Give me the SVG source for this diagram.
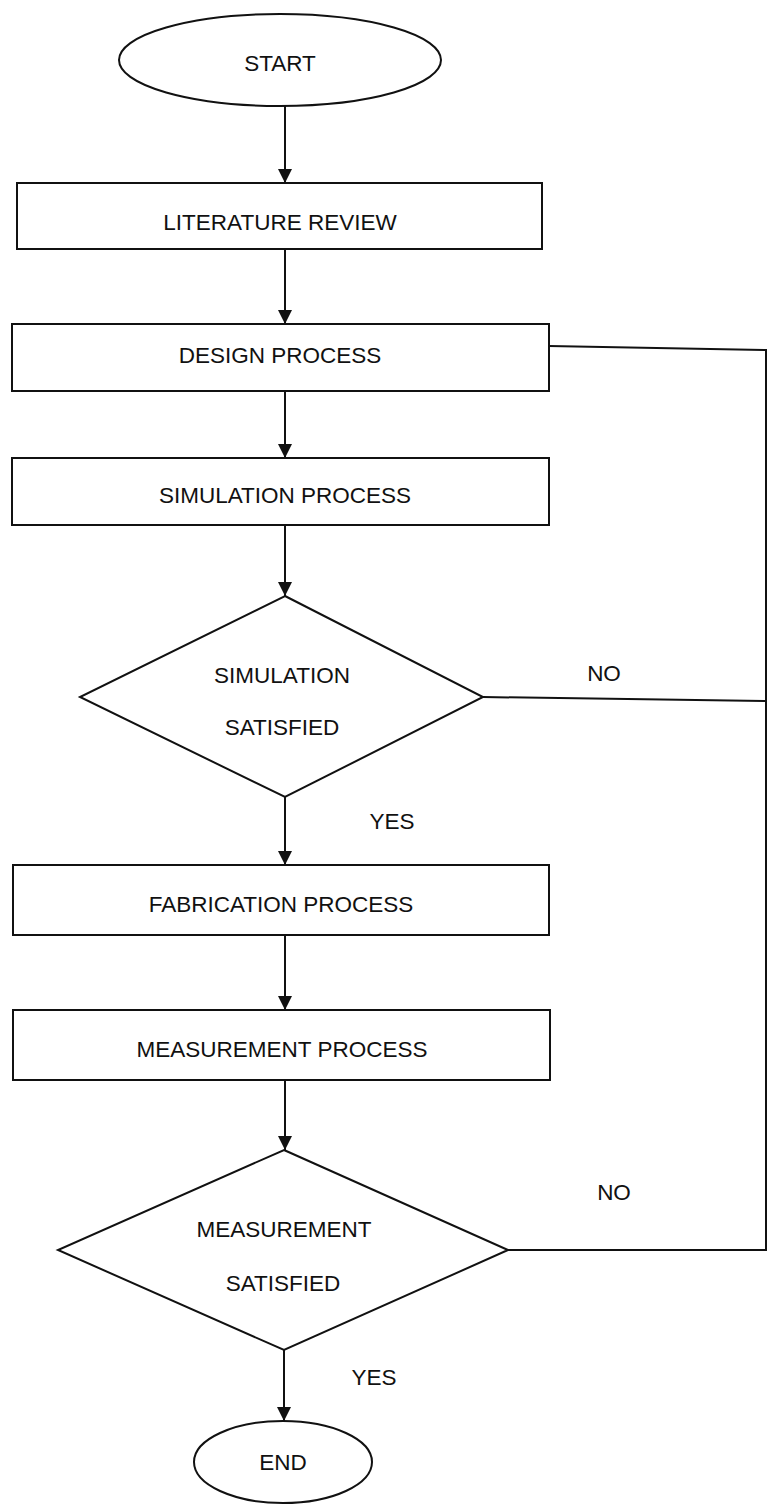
<svg xmlns="http://www.w3.org/2000/svg" width="769" height="1504" viewBox="0 0 769 1504">
<defs>
<marker id="arrow" markerUnits="userSpaceOnUse" markerWidth="14" markerHeight="15" refX="14" refY="7" orient="auto">
<path d="M0,0 L14,7 L0,14 Z" fill="#111"/>
</marker>
<style>
.shape{fill:#fff;stroke:#111;stroke-width:2}
.conn{fill:none;stroke:#111;stroke-width:2}
text{font-family:"Liberation Sans",Arial,sans-serif;font-size:22.5px;fill:#111;text-anchor:middle}
</style>
</defs>
<rect width="769" height="1504" fill="#fff"/>
<g id="connectors">
<line class="conn" x1="285" y1="106" x2="285" y2="183" marker-end="url(#arrow)"/>
<line class="conn" x1="285" y1="249" x2="285" y2="324" marker-end="url(#arrow)"/>
<line class="conn" x1="285" y1="391" x2="285" y2="458" marker-end="url(#arrow)"/>
<line class="conn" x1="285" y1="525" x2="285" y2="596" marker-end="url(#arrow)"/>
<line class="conn" x1="285" y1="797" x2="285" y2="865" marker-end="url(#arrow)"/>
<line class="conn" x1="285" y1="935" x2="285" y2="1010" marker-end="url(#arrow)"/>
<line class="conn" x1="285" y1="1080" x2="285" y2="1150" marker-end="url(#arrow)"/>
<line class="conn" x1="284" y1="1350" x2="284" y2="1421" marker-end="url(#arrow)"/>
<polyline class="conn" points="508,1250 766,1250 766,350 549,346"/>
<line class="conn" x1="483" y1="697" x2="766" y2="701"/>
<text x="604" y="681">NO</text>
<text x="392" y="829">YES</text>
<text x="614" y="1200">NO</text>
<text x="374" y="1385">YES</text>
</g>
<g id="start">
<ellipse class="shape" cx="280" cy="60" rx="161" ry="46"/>
<text x="280" y="71">START</text>
</g>
<g id="literature-review">
<rect class="shape" x="17" y="183" width="525" height="66"/>
<text x="280" y="230">LITERATURE REVIEW</text>
</g>
<g id="design-process">
<rect class="shape" x="12" y="324" width="537" height="67"/>
<text x="280" y="363">DESIGN PROCESS</text>
</g>
<g id="simulation-process">
<rect class="shape" x="12" y="458" width="537" height="67"/>
<text x="285" y="503">SIMULATION PROCESS</text>
</g>
<g id="simulation-satisfied">
<polygon class="shape" points="285,596 483,697 285,797 80,697"/>
<text x="282" y="683">SIMULATION</text>
<text x="282" y="735">SATISFIED</text>
</g>
<g id="fabrication-process">
<rect class="shape" x="13" y="865" width="536" height="70"/>
<text x="281" y="912">FABRICATION PROCESS</text>
</g>
<g id="measurement-process">
<rect class="shape" x="13" y="1010" width="537" height="70"/>
<text x="282" y="1057">MEASUREMENT PROCESS</text>
</g>
<g id="measurement-satisfied">
<polygon class="shape" points="284,1150 508,1250 284,1350 58,1250"/>
<text x="284" y="1237">MEASUREMENT</text>
<text x="283" y="1291">SATISFIED</text>
</g>
<g id="end">
<ellipse class="shape" cx="283" cy="1462" rx="89" ry="41"/>
<text x="283" y="1470">END</text>
</g>
</svg>
